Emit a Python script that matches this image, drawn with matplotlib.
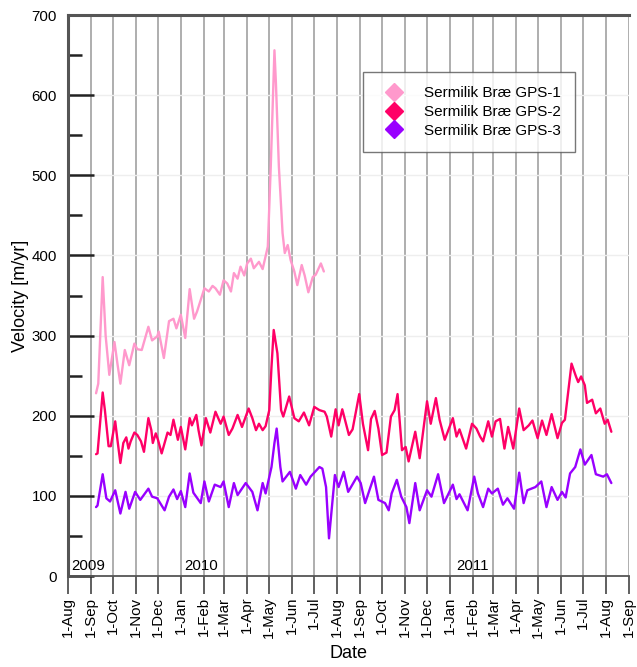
import numpy as np
import matplotlib
matplotlib.use("Agg")
import matplotlib.pyplot as plt
import matplotlib.dates as mdates
from matplotlib.lines import Line2D
from matplotlib.ticker import MultipleLocator, FuncFormatter

plt.rcParams['font.family'] = ['Liberation Sans', 'DejaVu Sans']

BASE = np.datetime64('2009-08-01')

# days since 1-Aug-2009 and velocities [m/yr]
gps1_days = [38, 41, 47, 51, 56, 63, 67, 71, 77, 83, 90, 94, 100, 109, 114, 121, 123, 130,
             137, 143, 147, 153, 159, 165, 171, 175, 185, 191, 196, 200, 206, 211, 216, 221,
             225, 230, 234, 239, 243, 248, 252, 259, 264, 269, 271, 275, 280, 282, 286, 291,
             294, 298, 302, 307, 311, 317, 321, 326, 332, 336, 343, 347]
gps1_vel = [228, 240, 373, 300, 251, 292, 265, 240, 282, 263, 290, 283, 282, 311, 294, 299, 305, 272,
            318, 321, 309, 326, 297, 358, 321, 330, 359, 355, 362, 359, 351, 369, 365, 355,
            378, 371, 386, 375, 390, 396, 384, 392, 383, 403, 411, 511, 656, 615, 511, 428,
            403, 413, 394, 380, 363, 388, 375, 354, 373, 376, 390, 380]

gps2_days = [38, 40, 47, 50, 55, 58, 64, 67, 71, 75, 79, 82, 85, 90, 94, 99, 103, 109, 113, 115,
             119, 122, 127, 135, 139, 143, 149, 153, 159, 165, 168, 174, 177, 181, 187, 193, 200,
             207, 211, 218, 223, 230, 236, 245, 250, 255, 259, 264, 268, 273, 276, 279, 284, 289,
             292, 300, 307, 313, 320, 327, 334, 341, 348, 351, 357, 363, 367, 372, 381, 386, 395,
             400, 407, 411, 416, 421, 426, 432, 438, 443, 447, 453, 458, 462, 471, 477, 487, 492,
             499, 504, 511, 522, 527, 531, 540, 548, 554, 559, 563, 570, 575, 580, 586, 592, 597,
             604, 612, 618, 625, 630, 637, 643, 649, 656, 664, 670, 674, 679, 683, 689, 692, 696,
             701, 704, 711, 716, 722, 728, 732, 737]
gps2_vel = [152, 153, 229, 207, 162, 162, 193, 170, 141, 166, 173, 159, 168, 179, 176, 168, 155, 197, 182, 166,
            178, 170, 153, 179, 176, 195, 170, 186, 158, 197, 188, 201, 182, 163, 197, 179, 205,
            190, 199, 176, 184, 201, 186, 209, 197, 182, 190, 182, 187, 207, 261, 307, 278, 207,
            199, 224, 197, 193, 204, 188, 211, 207, 205, 199, 174, 208, 188, 208, 176, 183, 227,
            190, 157, 196, 206, 184, 151, 154, 199, 207, 227, 157, 161, 143, 180, 147, 218, 190,
            222, 195, 170, 197, 174, 183, 159, 190, 184, 174, 168, 193, 174, 193, 196, 159, 186,
            159, 209, 182, 188, 194, 172, 194, 176, 202, 172, 191, 195, 234, 265, 249, 242, 249,
            238, 216, 220, 203, 209, 190, 195, 180]

gps3_days = [38, 40, 47, 52, 57, 64, 71, 78, 83, 91, 98, 109, 114, 121, 131, 137, 143, 148, 153,
             159, 165, 170, 180, 185, 191, 199, 207, 211, 218, 225, 230, 241, 250, 257, 264, 268,
             276, 280, 283, 288, 291, 301, 309, 315, 323, 329, 341, 345, 350, 354, 362, 367, 374,
             380, 392, 397, 403, 415, 421, 430, 435, 439, 446, 452, 459, 463, 471, 477, 487, 493,
             502, 510, 522, 527, 531, 542, 551, 556, 563, 570, 575, 583, 590, 596, 605, 612, 618,
             623, 634, 642, 649, 656, 664, 670, 675, 681, 688, 695, 701, 710, 716, 726, 731, 737]
gps3_vel = [86, 88, 127, 97, 93, 107, 78, 105, 84, 105, 95, 109, 99, 97, 82, 99, 108, 96, 106,
            86, 128, 104, 91, 118, 93, 114, 111, 118, 86, 116, 101, 116, 105, 82, 116, 103,
            136, 166, 184, 136, 118, 130, 109, 126, 114, 124, 136, 134, 111, 47, 126, 111, 130,
            105, 124, 116, 91, 124, 95, 91, 82, 103, 120, 99, 86, 66, 116, 82, 107, 99,
            127, 91, 114, 96, 102, 82, 124, 103, 86, 109, 103, 109, 89, 97, 84, 129, 91,
            107, 111, 118, 86, 111, 95, 105, 98, 128, 136, 158, 139, 151, 127, 124, 127, 116]

series_names = ['Sermilik Bræ GPS-1', 'Sermilik Bræ GPS-2', 'Sermilik Bræ GPS-3']
series_colors = ['#FF99CC', '#FF0066', '#9900FF']
year_labels = ['2009', '2010', '2011']
year_label_days = [4, 158, 527]


def to_dates(days):
    return BASE + np.array(days).astype('timedelta64[D]')


fig = plt.figure(figsize=(6.37, 6.67), dpi=100)
ax = fig.add_axes([0.1068, 0.1364, 0.8807, 0.8411])

for d, v, c in zip([gps1_days, gps2_days, gps3_days], [gps1_vel, gps2_vel, gps3_vel], series_colors):
    ax.plot(to_dates(d), v, color=c, lw=1.7, zorder=3,
            solid_joinstyle='round', solid_capstyle='round')

ax.set_xlim(np.datetime64('2009-08-01'), np.datetime64('2011-09-01'))
ax.set_ylim(0, 700)

ax.xaxis.set_major_locator(mdates.MonthLocator())
ax.xaxis.set_major_formatter(FuncFormatter(lambda x, p: '1-' + mdates.num2date(x).strftime('%b')))
ax.yaxis.set_major_locator(MultipleLocator(100))
ax.yaxis.set_minor_locator(MultipleLocator(50))

ax.tick_params(axis='x', which='major', direction='out', length=13, width=1.2,
               color='#444444', labelsize=10.8, labelrotation=90, pad=2)
ax.tick_params(axis='y', which='major', direction='in', length=19, width=1.8,
               color='#222222', labelsize=10.8, pad=8)
ax.tick_params(axis='y', which='minor', direction='in', length=10, width=1.8, color='#222222')

ax.grid(axis='x', color='#a8a8a8', lw=1.3, zorder=1)
ax.grid(axis='y', color='#eeeeee', lw=1.0, zorder=1)

for s in ['left', 'top']:
    ax.spines[s].set_color('#555555')
    ax.spines[s].set_linewidth(2.2)
ax.spines['bottom'].set_color('#555555')
ax.spines['bottom'].set_linewidth(1.3)
ax.spines['right'].set_visible(False)

for lab, d in zip(year_labels, year_label_days):
    ax.text(to_dates([d])[0], 4, lab, fontsize=10.8, ha='left', va='bottom', zorder=4)

ax.set_xlabel('Date', fontsize=13, labelpad=5)
ax.set_ylabel('Velocity [m/yr]', fontsize=13, labelpad=2)

handles = [Line2D([], [], ls='none', marker='D', markersize=9, color=c, markeredgecolor=c)
           for c in series_colors]
leg = ax.legend(handles, series_names, loc='upper left', bbox_to_anchor=(0.526, 0.898),
                fontsize=11.0, frameon=True, fancybox=False, borderpad=0.9, labelspacing=0.32,
                handletextpad=0.9, handlelength=2.2, borderaxespad=0)
leg.get_frame().set_edgecolor('#555555')
leg.get_frame().set_linewidth(1.0)

fig.savefig('out.png', dpi=100)
